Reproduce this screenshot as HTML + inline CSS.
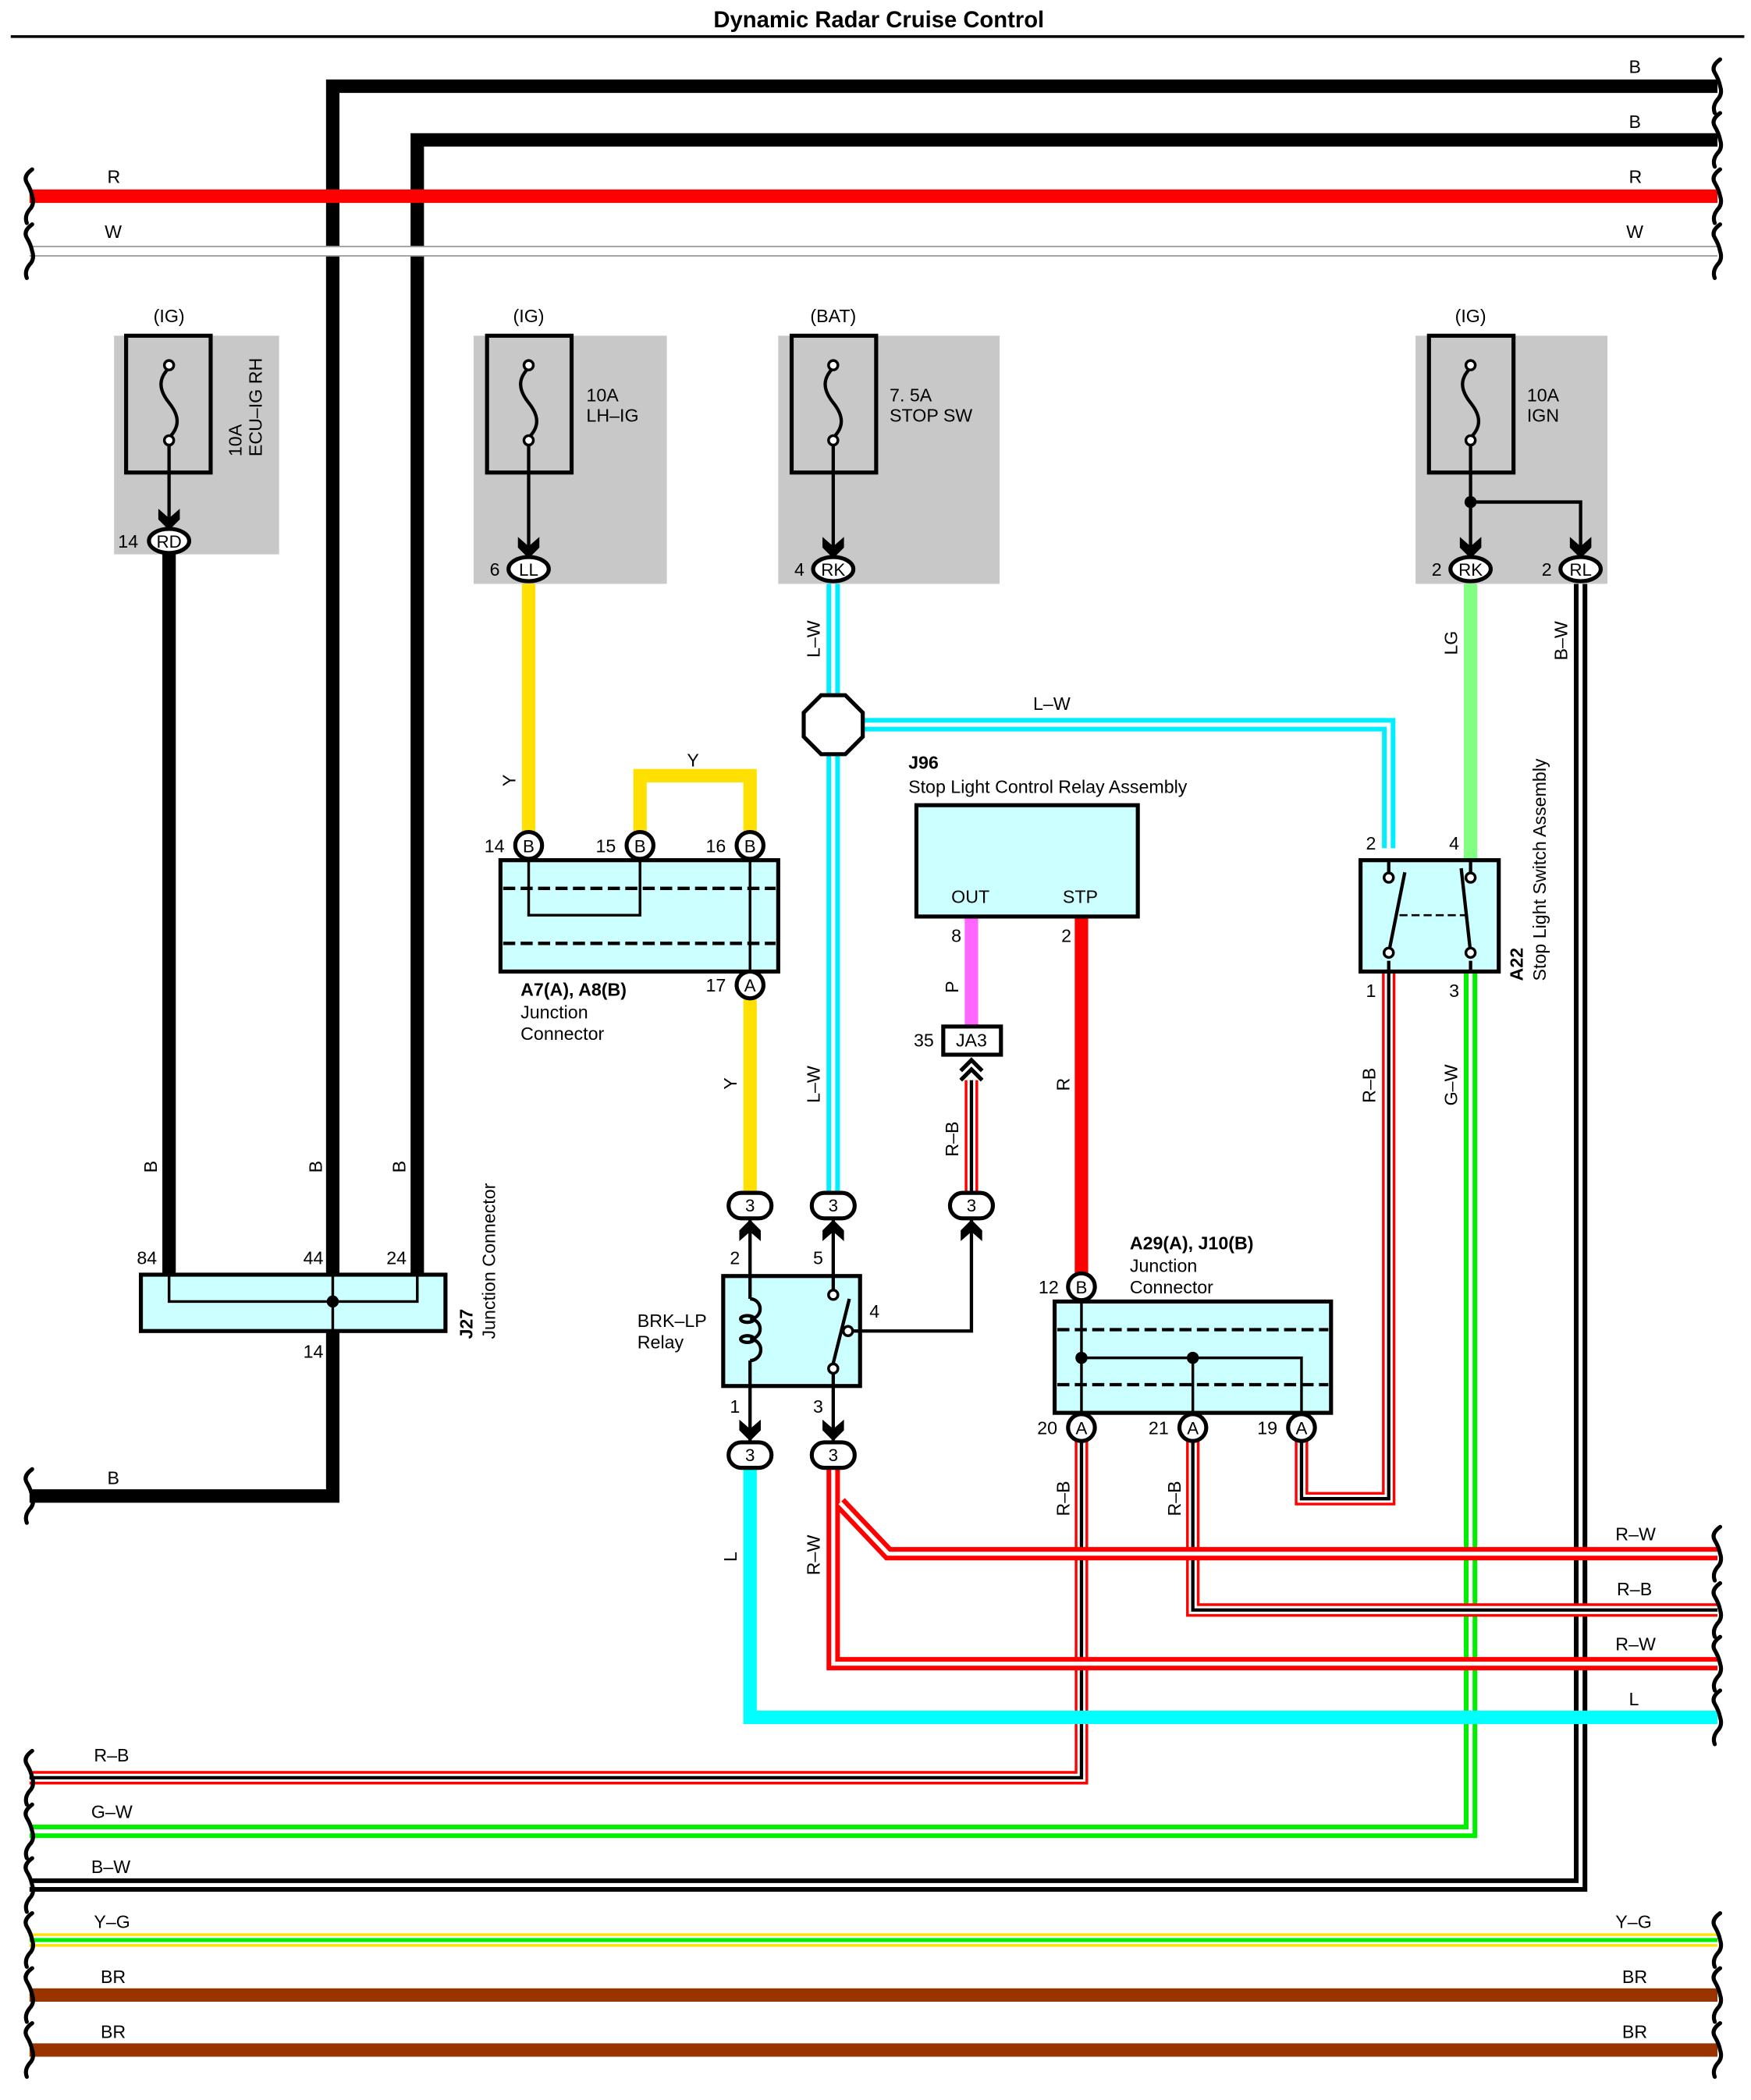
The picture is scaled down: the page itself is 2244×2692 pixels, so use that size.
<!DOCTYPE html>
<html><head><meta charset="utf-8"><style>html,body{margin:0;padding:0;background:#fff}svg{display:block}</style></head>
<body>
<svg width="2244" height="2692" viewBox="0 0 1305 1565" xmlns="http://www.w3.org/2000/svg" font-family="Liberation Sans, sans-serif" font-size="13.5">
<defs>
<path id="ad" d="M-8,-13 L0,-6 L8,-13 L8,-5 L0,3 L-8,-5 Z" fill="#000"/>
<path id="au" d="M-8,13 L0,6 L8,13 L8,5 L0,-3 L-8,5 Z" fill="#000"/>
<path id="wv" d="M0,-20 q-7,5 -4,10 q3,5 4,10 q2,6 -2,10 q-4,5 -2,10" fill="none" stroke="#000" stroke-width="3" stroke-linecap="round"/>
</defs>
<rect width="1305" height="1565" fill="#fff"/>
<text x="655" y="20" text-anchor="middle" font-weight="bold" font-size="17">Dynamic Radar Cruise Control</text>
<line x1="8" y1="27" x2="1300" y2="27" stroke="#000" stroke-width="2"/>

<!-- fuse boxes -->
<g fill="#c8c8c8">
<rect x="85" y="250" width="123" height="163"/><rect x="353" y="250" width="144" height="185"/>
<rect x="580" y="250" width="165" height="185"/><rect x="1055" y="250" width="143" height="185"/>
</g>
<g fill="none" stroke="#000" stroke-width="3">
<rect x="94" y="250" width="63" height="102"/><rect x="363" y="250" width="63" height="102"/>
<rect x="590" y="250" width="63" height="102"/><rect x="1065" y="250" width="63" height="102"/>
</g>
<g fill="none" stroke="#000" stroke-width="2.5">
<path d="M126,274 C118,282 118,290 126,300 C134,310 134,318 126,326"/>
<path d="M394,274 C386,282 386,290 394,300 C402,310 402,318 394,326"/>
<path d="M621,274 C613,282 613,290 621,300 C629,310 629,318 621,326"/>
<path d="M1096,274 C1088,282 1088,290 1096,300 C1104,310 1104,318 1096,326"/>
<line x1="126" y1="328" x2="126" y2="393"/><line x1="394" y1="328" x2="394" y2="414"/>
<line x1="621" y1="328" x2="621" y2="414"/><line x1="1096" y1="328" x2="1096" y2="414"/>
<path d="M1096,374 H1178 V414"/>
</g>
<g fill="#fff" stroke="#000" stroke-width="2">
<circle cx="126" cy="272" r="3.5"/><circle cx="126" cy="328" r="3.5"/>
<circle cx="394" cy="272" r="3.5"/><circle cx="394" cy="328" r="3.5"/>
<circle cx="621" cy="272" r="3.5"/><circle cx="621" cy="328" r="3.5"/>
<circle cx="1096" cy="272" r="3.5"/><circle cx="1096" cy="328" r="3.5"/>
</g>
<circle cx="1096" cy="374" r="4.5"/>
<text x="126" y="240" text-anchor="middle">(IG)</text>
<text x="394" y="240" text-anchor="middle">(IG)</text>
<text x="621" y="240" text-anchor="middle">(BAT)</text>
<text x="1096" y="240" text-anchor="middle">(IG)</text>
<text transform="translate(180,340) rotate(-90)">10A</text>
<text transform="translate(195,340) rotate(-90)">ECU–IG RH</text>
<text x="437" y="299">10A</text><text x="437" y="314">LH–IG</text>
<text x="663" y="299">7. 5A</text><text x="663" y="314">STOP SW</text>
<text x="1138" y="299">10A</text><text x="1138" y="314">IGN</text>

<!-- top wires -->
<polyline points="1280,64 248,64 248,1115 22,1115" fill="none" stroke="#000" stroke-width="10"/>
<polyline points="1280,104 311,104 311,950" fill="none" stroke="#000" stroke-width="10"/>
<line x1="22" y1="146" x2="1280" y2="146" stroke="#f00" stroke-width="10"/>
<line x1="22" y1="187" x2="1280" y2="187" stroke="#999" stroke-width="8"/>
<line x1="22" y1="187" x2="1280" y2="187" stroke="#fff" stroke-width="6"/>
<text x="1214" y="54">B</text><text x="1214" y="95">B</text>
<text x="80" y="136">R</text><text x="1214" y="136">R</text>
<text x="78" y="177">W</text><text x="1212" y="177">W</text>

<!-- ECU-IG B wire -->
<line x1="126" y1="413" x2="126" y2="950" stroke="#000" stroke-width="10"/>
<!-- Y wires -->
<g fill="none" stroke="#ffe000" stroke-width="10">
<line x1="394" y1="435" x2="394" y2="622"/>
<polyline points="477,622 477,578 559,578 559,622"/>
<line x1="559" y1="745" x2="559" y2="888"/>
</g>
<!-- L-W -->
<g fill="none">
<polyline points="621,435 621,888" stroke="#0ef" stroke-width="10"/>
<polyline points="621,435 621,888" stroke="#fff" stroke-width="3"/>
<polyline points="640,540 1035,540 1035,632" stroke="#0ef" stroke-width="10"/>
<polyline points="640,540 1035,540 1035,632" stroke="#fff" stroke-width="3"/>
</g>
<polygon points="612,518 630,518 643,531 643,549 630,562 612,562 599,549 599,531" fill="#fff" stroke="#000" stroke-width="3"/>
<text x="770" y="529">L–W</text>
<text transform="translate(611,490) rotate(-90)">L–W</text>
<text transform="translate(611,822) rotate(-90)">L–W</text>
<text transform="translate(384,586) rotate(-90)">Y</text>
<text x="512" y="571">Y</text>
<text transform="translate(549,812) rotate(-90)">Y</text>

<!-- LG and B-W -->
<line x1="1096" y1="435" x2="1096" y2="641" stroke="#80ff80" stroke-width="10"/>
<polyline points="1178,435 1178,1405 22,1405" fill="none" stroke="#000" stroke-width="10"/>
<polyline points="1178,435 1178,1405 22,1405" fill="none" stroke="#fff" stroke-width="3"/>
<polyline points="1096,724 1096,1365 22,1365" fill="none" stroke="#0e0" stroke-width="10"/>
<polyline points="1096,724 1096,1365 22,1365" fill="none" stroke="#fff" stroke-width="3"/>
<text transform="translate(1086,488) rotate(-90)">LG</text>
<text transform="translate(1168,492) rotate(-90)">B–W</text>
<text transform="translate(1086,824) rotate(-90)">G–W</text>

<!-- P, R wires -->
<line x1="724" y1="683" x2="724" y2="765" stroke="#f6f" stroke-width="10"/>
<line x1="806" y1="683" x2="806" y2="950" stroke="#f00" stroke-width="10"/>
<text transform="translate(714,740) rotate(-90)">P</text>
<text transform="translate(797,813) rotate(-90)">R</text>

<!-- R-B wires -->
<g fill="none">
<g stroke="#f00" stroke-width="10">
<line x1="724" y1="805" x2="724" y2="888"/>
<polyline points="806,1074 806,1325 22,1325"/>
<polyline points="889,1074 889,1200 1280,1200"/>
<polyline points="970,1074 970,1117 1035,1117 1035,724"/>
</g>
<g stroke="#fff" stroke-width="6">
<line x1="724" y1="805" x2="724" y2="888"/>
<polyline points="806,1074 806,1325 22,1325"/>
<polyline points="889,1074 889,1200 1280,1200"/>
<polyline points="970,1074 970,1117 1035,1117 1035,724"/>
</g>
<g stroke="#000" stroke-width="2.5">
<line x1="724" y1="805" x2="724" y2="888"/>
<polyline points="806,1074 806,1325 22,1325"/>
<polyline points="889,1074 889,1200 1280,1200"/>
<polyline points="970,1074 970,1117 1035,1117 1035,724"/>
</g>
<!-- R-W -->
<g stroke="#f00" stroke-width="10">
<polyline points="621,1094 621,1240 1280,1240"/>
<polyline points="626,1120 662,1158 1280,1158"/>
</g>
<g stroke="#fff" stroke-width="3">
<polyline points="621,1094 621,1240 1280,1240"/>
<polyline points="626,1120 662,1158 1280,1158"/>
</g>
<!-- L -->
<polyline points="559,1094 559,1280 1280,1280" stroke="#0ff" stroke-width="10"/>
</g>
<text transform="translate(714,862) rotate(-90)">R–B</text>
<text transform="translate(1025,822) rotate(-90)">R–B</text>
<text transform="translate(797,1130) rotate(-90)">R–B</text>
<text transform="translate(880,1130) rotate(-90)">R–B</text>
<text transform="translate(611,1174) rotate(-90)">R–W</text>
<text transform="translate(549,1164) rotate(-90)">L</text>
<text x="1204" y="1148">R–W</text><text x="1205" y="1189">R–B</text>
<text x="1204" y="1230">R–W</text><text x="1214" y="1271">L</text>
<text x="70" y="1313">R–B</text><text x="68" y="1355">G–W</text><text x="68" y="1396">B–W</text>

<!-- bottom wires -->
<line x1="22" y1="1446" x2="1280" y2="1446" stroke="#ffe000" stroke-width="10"/>
<line x1="22" y1="1446" x2="1280" y2="1446" stroke="#fff" stroke-width="6"/>
<line x1="22" y1="1446" x2="1280" y2="1446" stroke="#0e0" stroke-width="3"/>
<line x1="22" y1="1487" x2="1280" y2="1487" stroke="#993300" stroke-width="10"/>
<line x1="22" y1="1528" x2="1280" y2="1528" stroke="#993300" stroke-width="10"/>
<text x="70" y="1437">Y–G</text><text x="1204" y="1437">Y–G</text>
<text x="75" y="1478">BR</text><text x="1209" y="1478">BR</text>
<text x="75" y="1519">BR</text><text x="1209" y="1519">BR</text>
<text x="80" y="1106">B</text>

<!-- wavy ends -->
<g>
<use href="#wv" x="24" y="146"/><use href="#wv" x="24" y="187"/>
<use href="#wv" x="24" y="1115"/><use href="#wv" x="24" y="1325"/>
<use href="#wv" x="24" y="1365"/><use href="#wv" x="24" y="1405"/>
<use href="#wv" x="24" y="1446"/><use href="#wv" x="24" y="1487"/><use href="#wv" x="24" y="1528"/>
<use href="#wv" x="1282" y="64"/><use href="#wv" x="1282" y="104"/>
<use href="#wv" x="1282" y="146"/><use href="#wv" x="1282" y="187"/>
<use href="#wv" x="1282" y="1158"/><use href="#wv" x="1282" y="1200"/>
<use href="#wv" x="1282" y="1240"/><use href="#wv" x="1282" y="1280"/>
<use href="#wv" x="1282" y="1446"/><use href="#wv" x="1282" y="1487"/><use href="#wv" x="1282" y="1528"/>
</g>

<!-- fuse connectors -->
<use href="#ad" x="126" y="392"/><use href="#ad" x="394" y="413"/>
<use href="#ad" x="621" y="413"/><use href="#ad" x="1096" y="413"/><use href="#ad" x="1178" y="413"/>
<g fill="#fff" stroke="#000" stroke-width="3">
<ellipse cx="126" cy="403" rx="15" ry="9"/><ellipse cx="394" cy="424" rx="15" ry="9"/>
<ellipse cx="621" cy="424" rx="15" ry="9"/><ellipse cx="1096" cy="424" rx="15" ry="9"/>
<ellipse cx="1178" cy="424" rx="15" ry="9"/>
</g>
<g font-size="13" text-anchor="middle">
<text x="126" y="408">RD</text><text x="394" y="429">LL</text><text x="621" y="429">RK</text>
<text x="1096" y="429">RK</text><text x="1178" y="429">RL</text>
</g>
<text x="88" y="408">14</text><text x="365" y="429">6</text><text x="592" y="429">4</text>
<text x="1067" y="429">2</text><text x="1149" y="429">2</text>

<!-- A7/A8 junction -->
<rect x="373" y="641" width="207" height="83" fill="#ccffff" stroke="#000" stroke-width="3"/>
<g stroke="#000" stroke-width="2.5" fill="none">
<line x1="375" y1="662" x2="578" y2="662" stroke-dasharray="9,4"/>
<line x1="375" y1="703" x2="578" y2="703" stroke-dasharray="9,4"/>
<polyline points="394,641 394,682 477,682 477,641" stroke-width="2"/>
<line x1="559" y1="641" x2="559" y2="724" stroke-width="2"/>
</g>
<g fill="#fff" stroke="#000" stroke-width="3">
<circle cx="394" cy="630" r="10"/><circle cx="477" cy="630" r="10"/>
<circle cx="559" cy="630" r="10"/><circle cx="559" cy="734" r="10"/>
</g>
<g font-size="13" text-anchor="middle">
<text x="394" y="635">B</text><text x="477" y="635">B</text><text x="559" y="635">B</text><text x="559" y="739">A</text>
</g>
<text x="361" y="635">14</text><text x="444" y="635">15</text><text x="526" y="635">16</text><text x="526" y="739">17</text>
<text x="388" y="742" font-weight="bold">A7(A), A8(B)</text>
<text x="388" y="759">Junction</text><text x="388" y="775">Connector</text>

<!-- J96 -->
<text x="677" y="573" font-weight="bold">J96</text>
<text x="677" y="591">Stop Light Control Relay Assembly</text>
<rect x="683" y="600" width="165" height="83" fill="#ccffff" stroke="#000" stroke-width="3"/>
<text x="709" y="673">OUT</text><text x="792" y="673">STP</text>
<text x="709" y="702">8</text><text x="791" y="702">2</text>
<rect x="703" y="765" width="43" height="21" fill="#fff" stroke="#000" stroke-width="3"/>
<text x="724" y="780" text-anchor="middle">JA3</text><text x="681" y="780">35</text>
<path d="M716,798 L724,790 L732,798 M716,805 L724,797 L732,805" fill="none" stroke="#000" stroke-width="3"/>

<!-- A22 -->
<rect x="1014" y="641" width="103" height="83" fill="#ccffff" stroke="#000" stroke-width="3"/>
<g stroke="#000" stroke-width="2.5" fill="none">
<line x1="1035" y1="641" x2="1035" y2="650"/><line x1="1035" y1="716" x2="1035" y2="724"/>
<line x1="1096" y1="641" x2="1096" y2="650"/><line x1="1096" y1="716" x2="1096" y2="724"/>
<line x1="1035" y1="710" x2="1047" y2="650"/>
<line x1="1089" y1="647" x2="1096" y2="710"/>
<line x1="1043" y1="682" x2="1092" y2="682" stroke-dasharray="6,3" stroke-width="1.5"/>
</g>
<g fill="#fff" stroke="#000" stroke-width="2">
<circle cx="1035" cy="654" r="3.5"/><circle cx="1035" cy="710" r="3.5"/>
<circle cx="1096" cy="654" r="3.5"/><circle cx="1096" cy="710" r="3.5"/>
</g>
<text x="1018" y="633">2</text><text x="1080" y="633">4</text>
<text x="1018" y="743">1</text><text x="1080" y="743">3</text>
<text transform="translate(1135,731) rotate(-90)" font-weight="bold">A22</text>
<text transform="translate(1152,731) rotate(-90)">Stop Light Switch Assembly</text>

<!-- J27 -->
<rect x="105" y="950" width="227" height="42" fill="#ccffff" stroke="#000" stroke-width="3"/>
<polyline points="126,950 126,970 311,970 311,950" fill="none" stroke="#000" stroke-width="2"/>
<line x1="248" y1="950" x2="248" y2="992" stroke="#000" stroke-width="2"/>
<circle cx="248" cy="970" r="4.5"/>
<text x="102" y="942">84</text><text x="226" y="942">44</text><text x="288" y="942">24</text>
<text x="226" y="1012">14</text>
<text transform="translate(117,874) rotate(-90)">B</text>
<text transform="translate(240,874) rotate(-90)">B</text>
<text transform="translate(302,874) rotate(-90)">B</text>
<text transform="translate(352,998) rotate(-90)" font-weight="bold">J27</text>
<text transform="translate(369,998) rotate(-90)">Junction Connector</text>

<!-- relay BRK-LP -->
<g stroke="#000" stroke-width="2.5" fill="none">
<line x1="559" y1="908" x2="559" y2="1074"/>
<line x1="621" y1="908" x2="621" y2="962"/>
<line x1="621" y1="1024" x2="621" y2="1074"/>
<polyline points="724,908 724,992 636,992"/>
</g>
<rect x="539" y="951" width="102" height="82" fill="#ccffff" stroke="#000" stroke-width="3"/>
<g stroke="#000" stroke-width="2.5" fill="none">
<line x1="559" y1="951" x2="559" y2="968"/><line x1="559" y1="1014" x2="559" y2="1033"/>
<path d="M559,968 a7,7 0 0 1 0,15 a7,7 0 0 1 0,15 a7,7 0 0 1 0,16"/>
<ellipse cx="557" cy="983" rx="5" ry="2.5"/><ellipse cx="557" cy="998" rx="5" ry="2.5"/>
<line x1="621" y1="951" x2="621" y2="962"/><line x1="621" y1="1024" x2="621" y2="1033"/>
<line x1="621" y1="1016" x2="633" y2="968"/>
<line x1="636" y1="992" x2="641" y2="992"/>
</g>
<g fill="#fff" stroke="#000" stroke-width="2">
<circle cx="621" cy="965" r="3.5"/><circle cx="621" cy="1020" r="3.5"/><circle cx="632" cy="992" r="3.5"/>
</g>
<text x="475" y="989">BRK–LP</text><text x="475" y="1005">Relay</text>
<text x="544" y="942">2</text><text x="606" y="942">5</text><text x="648" y="982">4</text>
<text x="544" y="1053">1</text><text x="606" y="1053">3</text>

<use href="#au" x="559" y="912"/><use href="#au" x="621" y="912"/><use href="#au" x="724" y="912"/>
<use href="#ad" x="559" y="1071"/><use href="#ad" x="621" y="1071"/>
<g fill="#fff" stroke="#000" stroke-width="3">
<rect x="543" y="889" width="32" height="19" rx="9.5"/><rect x="605" y="889" width="32" height="19" rx="9.5"/>
<rect x="708" y="889" width="32" height="19" rx="9.5"/>
<rect x="543" y="1075" width="32" height="19" rx="9.5"/><rect x="605" y="1075" width="32" height="19" rx="9.5"/>
</g>
<g font-size="13" text-anchor="middle">
<text x="559" y="903">3</text><text x="621" y="903">3</text><text x="724" y="903">3</text>
<text x="559" y="1089">3</text><text x="621" y="1089">3</text>
</g>

<!-- A29/J10 -->
<text x="842" y="931" font-weight="bold">A29(A), J10(B)</text>
<text x="842" y="948">Junction</text><text x="842" y="964">Connector</text>
<rect x="786" y="970" width="206" height="83" fill="#ccffff" stroke="#000" stroke-width="3"/>
<g stroke="#000" stroke-width="2.5" fill="none">
<line x1="788" y1="991" x2="990" y2="991" stroke-dasharray="9,4"/>
<line x1="788" y1="1032" x2="990" y2="1032" stroke-dasharray="9,4"/>
<line x1="806" y1="970" x2="806" y2="1053" stroke-width="2"/>
<polyline points="806,1012 970,1012 970,1053" stroke-width="2"/>
<line x1="889" y1="1012" x2="889" y2="1053" stroke-width="2"/>
</g>
<circle cx="806" cy="1012" r="4.5"/><circle cx="889" cy="1012" r="4.5"/>
<g fill="#fff" stroke="#000" stroke-width="3">
<circle cx="806" cy="959" r="10"/><circle cx="806" cy="1064" r="10"/>
<circle cx="889" cy="1064" r="10"/><circle cx="970" cy="1064" r="10"/>
</g>
<g font-size="13" text-anchor="middle">
<text x="806" y="964">B</text><text x="806" y="1069">A</text><text x="889" y="1069">A</text><text x="970" y="1069">A</text>
</g>
<text x="774" y="964">12</text><text x="773" y="1069">20</text><text x="856" y="1069">21</text><text x="937" y="1069">19</text>
</svg>
</body></html>
